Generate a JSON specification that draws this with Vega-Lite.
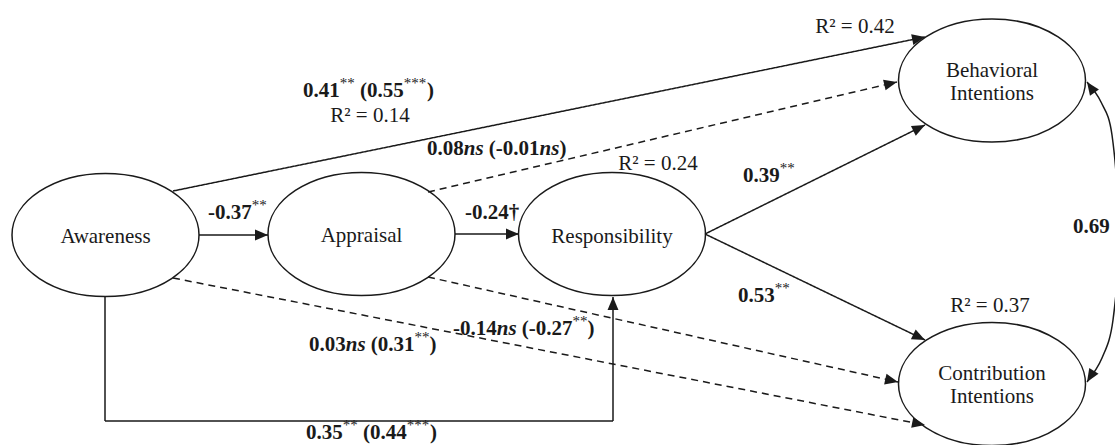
{
  "$schema": "https://vega.github.io/schema/vega-lite/v6.json",
  "width": 1115,
  "height": 445,
  "autosize": {"type": "none"},
  "padding": 0,
  "background": "white",
  "config": {"view": {"stroke": null}},
  "datasets": {
    "nodes": [
      {"x": 105.5, "y": 235, "name": "Awareness"},
      {"x": 361.5, "y": 234, "name": "Appraisal"},
      {"x": 612, "y": 234, "name": "Responsibility"},
      {"x": 992, "y": 80.5, "name": "Behavioral Intentions"},
      {"x": 992, "y": 384, "name": "Contribution Intentions"}
    ],
    "edges": [
      {"x1": 173, "y1": 191, "x2": 925, "y2": 37, "line": "solid", "head": 1},
      {"x1": 428, "y1": 192, "x2": 897, "y2": 82, "line": "dashed", "head": 1},
      {"x1": 705, "y1": 234, "x2": 925, "y2": 125, "line": "solid", "head": 1},
      {"x1": 705, "y1": 234, "x2": 925, "y2": 340, "line": "solid", "head": 1},
      {"x1": 199, "y1": 235, "x2": 268, "y2": 235, "line": "solid", "head": 1},
      {"x1": 455, "y1": 234, "x2": 519, "y2": 234, "line": "solid", "head": 1},
      {"x1": 428, "y1": 277, "x2": 898, "y2": 382, "line": "dashed", "head": 1},
      {"x1": 173, "y1": 278, "x2": 925, "y2": 425, "line": "dashed", "head": 1},
      {"x1": 105, "y1": 296, "x2": 105, "y2": 421, "line": "solid", "head": 0},
      {"x1": 105, "y1": 421, "x2": 613, "y2": 421, "line": "solid", "head": 0},
      {"x1": 613, "y1": 421, "x2": 613, "y2": 297, "line": "solid", "head": 1},
      {"x1": 1101, "y1": 102, "x2": 1087, "y2": 82, "line": "none", "head": 1},
      {"x1": 1102, "y1": 358, "x2": 1087, "y2": 382, "line": "none", "head": 1}
    ],
    "curve": [
      {"x": 1087, "y": 82, "seq": 1},
      {"x": 1101, "y": 102, "seq": 2},
      {"x": 1112, "y": 135, "seq": 3},
      {"x": 1119, "y": 230, "seq": 4},
      {"x": 1113, "y": 320, "seq": 5},
      {"x": 1102, "y": 358, "seq": 6},
      {"x": 1087, "y": 382, "seq": 7}
    ],
    "labels": [
      {"x": 105.5, "y": 237, "text": "Awareness", "kind": "node"},
      {"x": 361.5, "y": 236, "text": "Appraisal", "kind": "node"},
      {"x": 612, "y": 237, "text": "Responsibility", "kind": "node"},
      {"x": 992, "y": 71, "text": "Behavioral", "kind": "node"},
      {"x": 992, "y": 94, "text": "Intentions", "kind": "node"},
      {"x": 992, "y": 374, "text": "Contribution", "kind": "node"},
      {"x": 992, "y": 397, "text": "Intentions", "kind": "node"},
      {"x": 370, "y": 122, "text": "R² = 0.14", "kind": "r2"},
      {"x": 855, "y": 33, "text": "R² = 0.42", "kind": "r2"},
      {"x": 658, "y": 170, "text": "R² = 0.24", "kind": "r2"},
      {"x": 990, "y": 312, "text": "R² = 0.37", "kind": "r2"},
      {"x": 303, "y": 97, "text": "0.41", "kind": "b"},
      {"x": 339.75, "y": 97, "text": "**", "kind": "sup"},
      {"x": 360, "y": 97, "text": "(0.55", "kind": "b"},
      {"x": 403.75, "y": 97, "text": "***", "kind": "sup"},
      {"x": 427, "y": 97, "text": ")", "kind": "b"},
      {"x": 427, "y": 155, "text": "0.08", "kind": "b"},
      {"x": 463.75, "y": 155, "text": "ns", "kind": "bi"},
      {"x": 488.85, "y": 155, "text": "(-0.01", "kind": "b"},
      {"x": 539.6, "y": 155, "text": "ns", "kind": "bi"},
      {"x": 559.45, "y": 155, "text": ")", "kind": "b"},
      {"x": 208, "y": 219, "text": "-0.37", "kind": "b"},
      {"x": 251.75, "y": 219, "text": "**", "kind": "sup"},
      {"x": 465, "y": 219, "text": "-0.24†", "kind": "b"},
      {"x": 743, "y": 182, "text": "0.39", "kind": "b"},
      {"x": 779.75, "y": 182, "text": "**", "kind": "sup"},
      {"x": 738, "y": 302, "text": "0.53", "kind": "b"},
      {"x": 774.75, "y": 302, "text": "**", "kind": "sup"},
      {"x": 453, "y": 335, "text": "-0.14", "kind": "b"},
      {"x": 496.75, "y": 335, "text": "ns", "kind": "bi"},
      {"x": 521.85, "y": 335, "text": "(-0.27", "kind": "b"},
      {"x": 572.6, "y": 335, "text": "**", "kind": "sup"},
      {"x": 587.6, "y": 335, "text": ")", "kind": "b"},
      {"x": 309, "y": 351, "text": "0.03", "kind": "b"},
      {"x": 345.75, "y": 351, "text": "ns", "kind": "bi"},
      {"x": 370.85, "y": 351, "text": "(0.31", "kind": "b"},
      {"x": 414.6, "y": 351, "text": "**", "kind": "sup"},
      {"x": 429.6, "y": 351, "text": ")", "kind": "b"},
      {"x": 306, "y": 439, "text": "0.35", "kind": "b"},
      {"x": 342.75, "y": 439, "text": "**", "kind": "sup"},
      {"x": 363, "y": 439, "text": "(0.44", "kind": "b"},
      {"x": 406.75, "y": 439, "text": "***", "kind": "sup"},
      {"x": 430, "y": 439, "text": ")", "kind": "b"},
      {"x": 1073, "y": 233, "text": "0.69", "kind": "b"}
    ]
  },
  "layer": [
    {
      "data": {"name": "edges"},
      "transform": [{"filter": "datum.line != 'none'"}],
      "mark": {"type": "rule", "color": "#1a1a1a", "strokeWidth": 1.5},
      "encoding": {
        "x": {"field": "x1", "type": "quantitative", "scale": {"domain": [0, 1115], "nice": false, "zero": false}, "axis": null},
        "y": {"field": "y1", "type": "quantitative", "scale": {"domain": [0, 445], "nice": false, "zero": false, "reverse": true}, "axis": null},
        "x2": {"field": "x2"},
        "y2": {"field": "y2"},
        "strokeDash": {"field": "line", "type": "nominal", "scale": {"domain": ["solid", "dashed"], "range": [[1, 0], [7, 5]]}, "legend": null}
      }
    },
    {
      "data": {"name": "curve"},
      "mark": {"type": "line", "color": "#1a1a1a", "strokeWidth": 1.5, "interpolate": "cardinal"},
      "encoding": {
        "x": {"field": "x", "type": "quantitative", "axis": null},
        "y": {"field": "y", "type": "quantitative", "axis": null},
        "order": {"field": "seq", "type": "quantitative"}
      }
    },
    {
      "data": {"name": "edges"},
      "transform": [
        {"filter": "datum.head == 1"},
        {"calculate": "atan2(datum.x2 - datum.x1, datum.y1 - datum.y2) * 180 / PI", "as": "ang"}
      ],
      "mark": {"type": "point", "shape": "M0,0L-0.42,1L0.42,1Z", "size": 676, "filled": true, "color": "#1a1a1a", "opacity": 1, "strokeWidth": 0},
      "encoding": {
        "x": {"field": "x2", "type": "quantitative", "axis": null},
        "y": {"field": "y2", "type": "quantitative", "axis": null},
        "angle": {"field": "ang", "type": "quantitative", "scale": null}
      }
    },
    {
      "data": {"name": "nodes"},
      "mark": {"type": "point", "shape": "M-1,0A1,0.658,0,1,0,1,0A1,0.658,0,1,0,-1,0Z", "size": 34969, "filled": false, "stroke": "#1a1a1a", "strokeWidth": 1.5, "opacity": 1},
      "encoding": {
        "x": {"field": "x", "type": "quantitative", "axis": null},
        "y": {"field": "y", "type": "quantitative", "axis": null}
      }
    },
    {
      "data": {"name": "labels"},
      "transform": [{"filter": "datum.kind == 'node'"}],
      "mark": {"type": "text", "font": "Liberation Serif", "fontSize": 21, "align": "center", "baseline": "middle", "color": "#1a1a1a"},
      "encoding": {
        "x": {"field": "x", "type": "quantitative", "axis": null},
        "y": {"field": "y", "type": "quantitative", "axis": null},
        "text": {"field": "text"}
      }
    },
    {
      "data": {"name": "labels"},
      "transform": [{"filter": "datum.kind == 'r2'"}],
      "mark": {"type": "text", "font": "Liberation Serif", "fontSize": 21, "align": "center", "baseline": "alphabetic", "color": "#1a1a1a"},
      "encoding": {
        "x": {"field": "x", "type": "quantitative", "axis": null},
        "y": {"field": "y", "type": "quantitative", "axis": null},
        "text": {"field": "text"}
      }
    },
    {
      "data": {"name": "labels"},
      "transform": [{"filter": "datum.kind == 'b'"}],
      "mark": {"type": "text", "font": "Liberation Serif", "fontSize": 21, "fontWeight": "bold", "align": "left", "baseline": "alphabetic", "color": "#1a1a1a"},
      "encoding": {
        "x": {"field": "x", "type": "quantitative", "axis": null},
        "y": {"field": "y", "type": "quantitative", "axis": null},
        "text": {"field": "text"}
      }
    },
    {
      "data": {"name": "labels"},
      "transform": [{"filter": "datum.kind == 'bi'"}],
      "mark": {"type": "text", "font": "Liberation Serif", "fontSize": 21, "fontWeight": "bold", "fontStyle": "italic", "align": "left", "baseline": "alphabetic", "color": "#1a1a1a"},
      "encoding": {
        "x": {"field": "x", "type": "quantitative", "axis": null},
        "y": {"field": "y", "type": "quantitative", "axis": null},
        "text": {"field": "text"}
      }
    },
    {
      "data": {"name": "labels"},
      "transform": [{"filter": "datum.kind == 'sup'"}],
      "mark": {"type": "text", "font": "Liberation Serif", "fontSize": 15, "align": "left", "baseline": "alphabetic", "dy": -9, "color": "#1a1a1a"},
      "encoding": {
        "x": {"field": "x", "type": "quantitative", "axis": null},
        "y": {"field": "y", "type": "quantitative", "axis": null},
        "text": {"field": "text"}
      }
    }
  ]
}
